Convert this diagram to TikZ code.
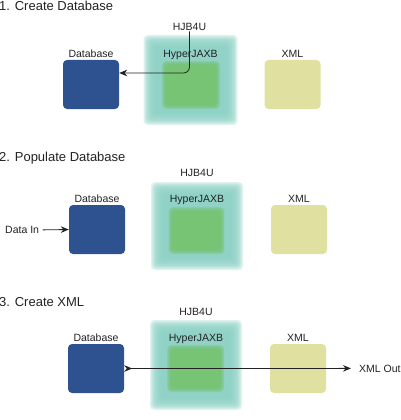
\documentclass[tikz,border=0pt]{standalone}
\usepackage{fontspec}
\setmainfont{Liberation Sans}
\usetikzlibrary{arrows.meta,calc}
\definecolor{dbblue}{RGB}{46,82,143}
\definecolor{tealglow}{RGB}{140,208,196}
\definecolor{greenglow}{RGB}{118,196,114}
\definecolor{xmlc}{RGB}{224,225,160}
\definecolor{ink}{RGB}{34,34,34}
\newcommand\softrect[6]{%
  \foreach \k in {0,...,9}{%
    \pgfmathsetmacro\gd{#6-\k*#6/4.5}%
    \fill[#5, fill opacity=0.28, rounded corners=4pt]
      ({#1-#3/2-\gd},{#2-#4/2-\gd}) rectangle ({#1+#3/2+\gd},{#2+#4/2+\gd});
  }}
\tikzset{
  x=1pt, y=-1pt,
  title/.style={font=\fontsize{13}{15}\selectfont, text=ink, inner sep=0pt, anchor=base west},
  lbl/.style={font=\fontsize{10.5}{12}\selectfont, text=ink, inner sep=0pt, anchor=base},
  dbbox/.style={fill=dbblue, rounded corners=4pt, minimum width=56pt, minimum height=49pt, inner sep=0pt},
  xmlbox/.style={fill=xmlc, rounded corners=4pt, minimum width=56pt, minimum height=49pt, inner sep=0pt},
  hjbox/.style={minimum width=54pt, minimum height=46pt, inner sep=0pt},
  conn/.style={draw=ink, line width=0.8pt, -{Stealth[length=8pt,width=6.5pt]}},
}
\begin{document}
\begin{tikzpicture}
\useasboundingbox (0,0) rectangle (400,420);
% ---------- 1. Create Database
\node[title] (t1) at (-1,11) {1. Create Database};
\softrect{190.5}{80}{82}{78}{tealglow}{6}
\softrect{191}{85}{52}{42}{greenglow}{3}
\node[hjbox] (hj1) at (191,85) {};
\node[dbbox] (db1) at (91,84.5) {};
\node[xmlbox] (xml1) at (292.5,84.5) {};
\node[lbl] (dbl1) at (91,57) {Database};
\node[lbl] (hjl1) at (190.5,57) {HyperJAXB};
\node[lbl] (xmll1) at (292.5,57) {XML};
\node[lbl] (hjb1) at (189.5,31) {HJB4U};
\draw[conn, rounded corners=6pt] (hjb1.south) |- ([yshift=11.5pt]db1.east);
% ---------- 2. Populate Database
\node[title] (t2) at (-1,161) {2. Populate Database};
\softrect{197}{226}{80}{76}{tealglow}{6}
\softrect{196.5}{230.5}{50}{41}{greenglow}{3}
\node[hjbox] (hj2) at (196.5,230.5) {};
\node[dbbox] (db2) at (97,229.5) {};
\node[xmlbox] (xml2) at (299,229.5) {};
\node[lbl] (dbl2) at (97,202) {Database};
\node[lbl] (hjl2) at (197,202) {HyperJAXB};
\node[lbl] (xmll2) at (299,202) {XML};
\node[lbl] (hjb2) at (197,176) {HJB4U};
\node[lbl, anchor=base west] (din) at (5,233.5) {Data In};
\draw[conn, shorten <=3.5pt] (din.east) -- (db2.west);
% ---------- 3. Create XML
\node[title] (t3) at (-1,306) {3. Create XML};
\softrect{196}{365}{80}{78}{tealglow}{6}
\softrect{195.5}{368.5}{51}{41}{greenglow}{3}
\node[hjbox] (hj3) at (195.5,368.5) {};
\node[dbbox] (db3) at (96,368.5) {};
\node[xmlbox] (xml3) at (298,368.5) {};
\node[lbl] (dbl3) at (96,341) {Database};
\node[lbl] (hjl3) at (196,341) {HyperJAXB};
\node[lbl] (xmll3) at (298,341) {XML};
\node[lbl] (hjb3) at (196,315) {HJB4U};
\node[lbl, anchor=base west] (xo) at (359,372) {XML Out};
\draw[conn, {Stealth[reversed,length=8pt,width=6.5pt]}-{Stealth[length=8pt,width=6.5pt]}, shorten >=8pt] (db3.east) -- (xo.west);
\end{tikzpicture}
\end{document}
